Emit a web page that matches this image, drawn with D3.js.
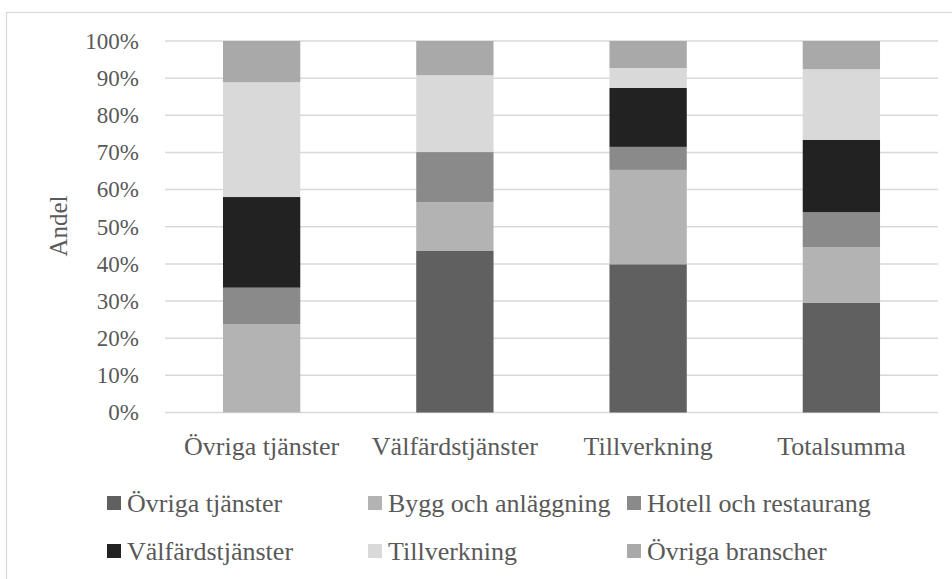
<!DOCTYPE html>
<html>
<head>
<meta charset="utf-8">
<script src="https://cdn.jsdelivr.net/npm/d3@7.9.0/dist/d3.min.js"></script>
<style>
  body { margin: 0; background: #fff; }
  svg { display: block; font-family: "Liberation Serif", serif; }
</style>
</head>
<body>
<svg width="952" height="579"></svg>
<script>
// categories on the x axis
const categories = ['Övriga tjänster', 'Välfärdstjänster', 'Tillverkning', 'Totalsumma'];
// stacked series, bottom to top (percent)
const seriesNames = ['Övriga tjänster', 'Bygg och anläggning', 'Hotell och restaurang',
  'Välfärdstjänster', 'Tillverkning', 'Övriga branscher'];
const ovrigaTjanster   = [0, 43.6, 39.9, 29.6];
const byggAnlaggning   = [23.8, 13.0, 25.4, 14.9];
const hotellRestaurang = [9.8, 13.5, 6.2, 9.4];
const valfardstjanster = [24.4, 0, 15.9, 19.5];
const tillverkning     = [30.9, 20.7, 5.3, 19.0];
const ovrigaBranscher  = [11.1, 9.2, 7.3, 7.6];
const yTicks = [0, 10, 20, 30, 40, 50, 60, 70, 80, 90, 100];
const colors = ['#606060', '#b3b3b3', '#8a8a8a', '#222222', '#d9d9d9', '#a9a9a9'];

const seriesValues = [ovrigaTjanster, byggAnlaggning, hotellRestaurang,
  valfardstjanster, tillverkning, ovrigaBranscher];

const rows = categories.map((c, i) => {
  let row = { cat: c };
  seriesNames.forEach((s, j) => { row['s' + j] = seriesValues[j][i]; });
  return row;
});
const keys = seriesNames.map((_, j) => 's' + j);
const stacked = d3.stack().keys(keys)(rows);

const svg = d3.select('svg');
const textColor = '#595959';

// chart border (runs off the right / bottom edge)
svg.append('rect')
  .attr('x', 6.5).attr('y', 12.5)
  .attr('width', 960).attr('height', 600)
  .attr('fill', 'none').attr('stroke', '#d9d9d9').attr('stroke-width', 1.2);

const x = d3.scaleBand().domain(categories).range([165, 938])
  .paddingInner(0.6).paddingOuter(0.3);
const y = d3.scaleLinear().domain([0, 100]).range([412.5, 41]);

// gridlines
svg.append('g').selectAll('line')
  .data(yTicks)
  .join('line')
  .attr('x1', 165).attr('x2', 938)
  .attr('y1', d => y(d)).attr('y2', d => y(d))
  .attr('stroke', '#d9d9d9').attr('stroke-width', 1.5);

// y tick labels
svg.append('g').selectAll('text')
  .data(yTicks)
  .join('text')
  .attr('x', 139).attr('y', d => y(d))
  .attr('dy', '0.34em')
  .attr('text-anchor', 'end')
  .attr('font-size', 23)
  .attr('fill', textColor)
  .text(d => d + '%');

// bars
svg.append('g').selectAll('g')
  .data(stacked)
  .join('g')
  .attr('fill', (d, i) => colors[i])
  .selectAll('rect')
  .data(d => d)
  .join('rect')
  .attr('x', d => x(d.data.cat))
  .attr('y', d => y(d[1]))
  .attr('width', x.bandwidth())
  .attr('height', d => y(d[0]) - y(d[1]));

// x labels
svg.append('g').selectAll('text')
  .data(categories)
  .join('text')
  .attr('x', d => x(d) + x.bandwidth() / 2)
  .attr('y', 455)
  .attr('text-anchor', 'middle')
  .attr('font-size', 26)
  .attr('fill', textColor)
  .text(d => d);

// y axis title
svg.append('text')
  .attr('transform', 'translate(67,226) rotate(-90)')
  .attr('text-anchor', 'middle')
  .attr('font-size', 25)
  .attr('fill', textColor)
  .text('Andel');

// legend
const legX = [107, 368, 627];
const legY = [496, 544];
const legend = svg.append('g').selectAll('g')
  .data(seriesNames)
  .join('g')
  .attr('transform', (d, i) => `translate(${legX[i % 3]},${legY[Math.floor(i / 3)]})`);
legend.append('rect')
  .attr('width', 14).attr('height', 14)
  .attr('fill', (d, i) => colors[i]);
legend.append('text')
  .attr('x', 20).attr('y', 15.5)
  .attr('font-size', 26)
  .attr('fill', textColor)
  .text(d => d);
</script>
</body>
</html>
